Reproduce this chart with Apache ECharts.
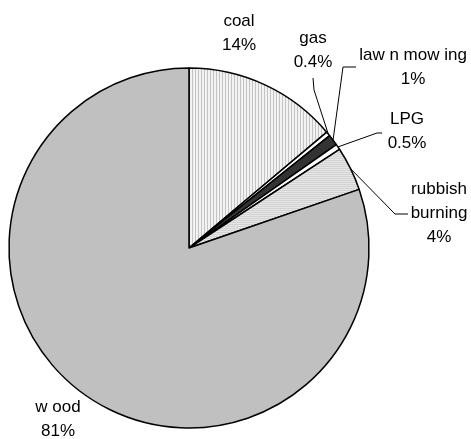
<!DOCTYPE html>
<html>
<head>
<meta charset="utf-8">
<script src="https://cdn.jsdelivr.net/npm/echarts@6/dist/echarts.min.js"></script>
<style>
  html, body { margin: 0; padding: 0; background: #fff; }
  #chart { width: 471px; height: 439px; }
</style>
</head>
<body>
<div id="chart"></div>
<script>
// Emission sources and their shares (percent)
const sources = ['coal', 'gas', 'law n mow ing', 'LPG', 'rubbish\nburning', 'w ood'];
const shares = [14, 0.4, 1, 0.5, 4, 81];

// Striped fills drawn on small tiles
function stripeTile(vertical, period, light, dark) {
  const c = document.createElement('canvas');
  c.width = period; c.height = period;
  const g = c.getContext('2d');
  g.fillStyle = light; g.fillRect(0, 0, period, period);
  g.fillStyle = dark;
  if (vertical) g.fillRect(0, 0, 1, period); else g.fillRect(0, 0, period, 1);
  return { image: c, repeat: 'repeat' };
}

const fills = [
  stripeTile(true, 3, '#f2f2f2', '#c4c4c4'),
  '#ffffff',
  '#333333',
  '#ffffff',
  stripeTile(false, 2, '#e6e6e6', '#d2d2d2'),
  '#c0c0c0'
];

// Label block centres and leader-line routing (elbow, end)
const labelAt = [[239, 33], [313, 50], [413, 67], [407, 131], [439, 213], [58, 419]];
const leader = [
  null,
  [[314, 90], [313, 78]],
  [[343, 67], [356, 67]],
  [[377, 133], [382, 133]],
  [[395, 214], [408, 214]],
  null
];

const chart = echarts.init(document.getElementById('chart'), null, { renderer: 'canvas' });

chart.setOption({
  backgroundColor: '#ffffff',
  animation: false,
  series: [{
    type: 'pie',
    center: [189, 248],
    radius: 180,
    startAngle: 90,
    clockwise: true,
    avoidLabelOverlap: false,
    itemStyle: { borderColor: '#000', borderWidth: 1.5 },
    emphasis: { disabled: true },
    label: {
      show: true,
      position: 'outside',
      color: '#000',
      fontFamily: 'Liberation Sans, Arial, sans-serif',
      fontSize: 17,
      lineHeight: 24,
      align: 'center',
      formatter: p => p.name + '\n' + p.value + '%'
    },
    labelLine: {
      show: true,
      length: 10,
      length2: 10,
      lineStyle: { color: '#000', width: 1 }
    },
    labelLayout: function (params) {
      const i = params.dataIndex;
      const out = {
        x: labelAt[i][0],
        y: labelAt[i][1],
        align: 'center',
        verticalAlign: 'middle'
      };
      if (leader[i] && params.labelLinePoints) {
        out.labelLinePoints = [params.labelLinePoints[0], leader[i][0], leader[i][1]];
      }
      return out;
    },
    data: sources.map((name, i) => ({
      name: name,
      value: shares[i],
      itemStyle: { color: fills[i] },
      labelLine: { show: leader[i] !== null }
    }))
  }]
});
</script>
</body>
</html>
